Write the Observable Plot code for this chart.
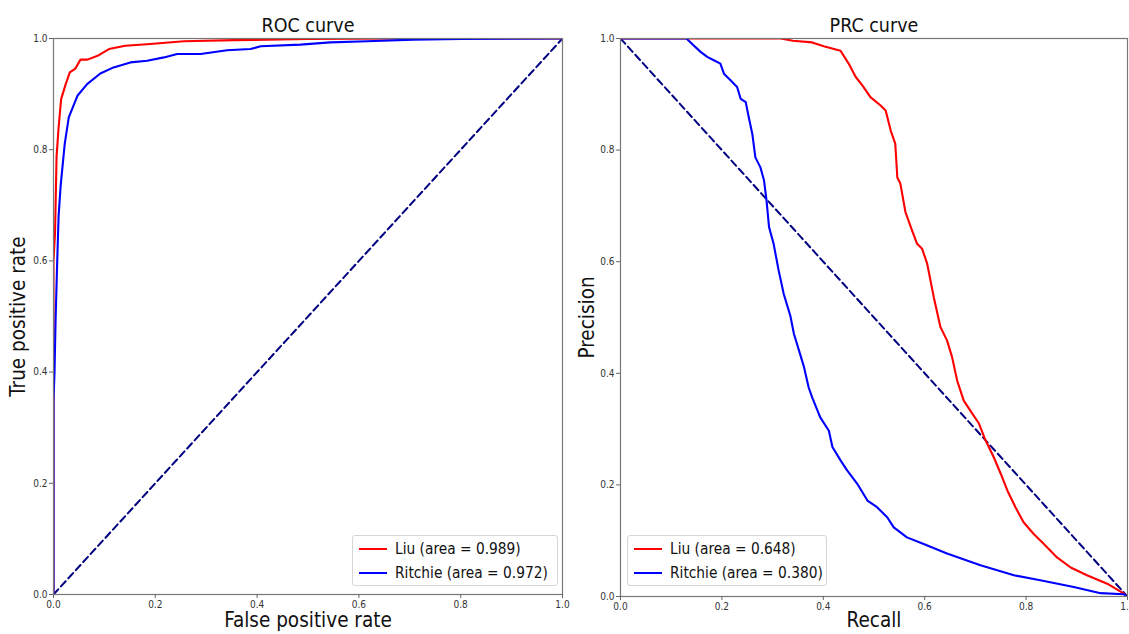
<!DOCTYPE html>
<html>
<head>
<meta charset="utf-8">
<script src="https://cdn.jsdelivr.net/npm/d3@7"></script>
<script src="https://cdn.jsdelivr.net/npm/@observablehq/plot@0.6"></script>
<style>
  html, body { margin: 0; padding: 0; background: #fff; }
  #wrap { position: relative; width: 1129px; height: 634px; overflow: hidden; font-family: "DejaVu Sans Condensed", "DejaVu Sans", sans-serif; }
  .panel { position: absolute; top: 0; overflow: visible; }
  .legend { position: absolute; background: rgba(255,255,255,0.85); border: 1px solid #d6d6d6; border-radius: 3px; box-sizing: border-box; }
  .legend .row { position: absolute; left: 0; height: 20px; display: flex; align-items: center; font-size: 15.3px; color: #111; white-space: nowrap; }
  .legend .sw { width: 28px; height: 2px; margin-left: 6px; margin-right: 8px; }
</style>
</head>
<body>
<div id="wrap"></div>
<script>
// ---------- data ----------
const ticks = [0, 0.2, 0.4, 0.6, 0.8, 1.0];

const rocLiuFpr = [0, 0, 0.003, 0.006, 0.010, 0.015, 0.024, 0.032, 0.043, 0.053, 0.067, 0.089, 0.109, 0.141, 0.190, 0.256, 0.354, 0.500, 0.700, 1.0];
const rocLiuTpr = [0, 0.60, 0.65, 0.787, 0.84, 0.891, 0.918, 0.939, 0.946, 0.962, 0.962, 0.970, 0.981, 0.987, 0.990, 0.995, 0.997, 0.999, 1.0, 1.0];

const rocRitFpr = [0, 0, 0.002, 0.004, 0.007, 0.010, 0.014, 0.022, 0.030, 0.047, 0.066, 0.092, 0.118, 0.151, 0.184, 0.217, 0.243, 0.289, 0.341, 0.387, 0.407, 0.485, 0.544, 0.616, 0.707, 0.800, 1.0];
const rocRitTpr = [0, 0.35, 0.40, 0.49, 0.59, 0.68, 0.735, 0.81, 0.858, 0.897, 0.918, 0.937, 0.948, 0.957, 0.960, 0.966, 0.972, 0.972, 0.979, 0.981, 0.986, 0.989, 0.993, 0.995, 0.998, 0.999, 1.0];

const prcLiuRecall = [0, 0.316, 0.340, 0.378, 0.401, 0.434, 0.450, 0.464, 0.477, 0.493, 0.513, 0.523, 0.533, 0.542, 0.546, 0.552, 0.562, 0.575, 0.585, 0.595, 0.605, 0.618, 0.631, 0.644, 0.654, 0.664, 0.677, 0.690, 0.707, 0.720, 0.736, 0.750, 0.763, 0.779, 0.795, 0.815, 0.835, 0.861, 0.888, 0.920, 0.960, 0.993, 1.0];
const prcLiuPrec   = [1.0, 1.0, 0.996, 0.993, 0.986, 0.978, 0.955, 0.931, 0.916, 0.895, 0.880, 0.871, 0.835, 0.811, 0.751, 0.740, 0.689, 0.656, 0.632, 0.623, 0.596, 0.536, 0.483, 0.459, 0.429, 0.387, 0.351, 0.333, 0.310, 0.280, 0.250, 0.220, 0.190, 0.160, 0.133, 0.112, 0.094, 0.070, 0.052, 0.038, 0.023, 0.005, 0.0];

const prcRitRecall = [0, 0.130, 0.145, 0.158, 0.171, 0.184, 0.197, 0.204, 0.217, 0.230, 0.237, 0.247, 0.253, 0.260, 0.266, 0.276, 0.283, 0.288, 0.293, 0.302, 0.312, 0.322, 0.335, 0.342, 0.352, 0.362, 0.371, 0.378, 0.394, 0.411, 0.418, 0.434, 0.447, 0.467, 0.487, 0.506, 0.526, 0.539, 0.565, 0.598, 0.644, 0.710, 0.776, 0.828, 0.894, 0.947, 0.993, 1.0];
const prcRitPrec   = [1.0, 1.0, 0.987, 0.976, 0.967, 0.961, 0.955, 0.937, 0.925, 0.913, 0.892, 0.886, 0.859, 0.829, 0.787, 0.769, 0.746, 0.710, 0.662, 0.632, 0.584, 0.542, 0.503, 0.471, 0.441, 0.411, 0.375, 0.357, 0.321, 0.297, 0.268, 0.244, 0.226, 0.202, 0.172, 0.160, 0.142, 0.124, 0.106, 0.094, 0.077, 0.056, 0.038, 0.029, 0.017, 0.006, 0.004, 0.0];

const rocChanceX = [0, 1], rocChanceY = [0, 1];
const prcChanceX = [0, 1], prcChanceY = [1, 0];

const rocLegend = ["Liu (area = 0.989)", "Ritchie (area = 0.972)"];
const prcLegend = ["Liu (area = 0.648)", "Ritchie (area = 0.380)"];
const seriesColors = ["red", "blue"];

// ---------- helpers ----------
const pts = (xs, ys) => xs.map((x, i) => ({x, y: ys[i]}));
const FONT = '"DejaVu Sans Condensed", "DejaVu Sans", sans-serif';

function panel({title, xlabel, ylabel, liu, rit, chance, width, ml, mr, mb, ylabDx, xlabDy}) {
  return Plot.plot({
    width, height: 634,
    marginLeft: ml, marginRight: mr, marginTop: 38, marginBottom: mb,
    x: {domain: [0, 1]},
    y: {domain: [0, 1]},
    style: {fontFamily: FONT, background: "transparent", color: "#333", overflow: "visible"},
    marks: [
      Plot.line(chance, {x: "x", y: "y", stroke: "navy", strokeWidth: 2, strokeDasharray: "7,4", clip: true}),
      Plot.line(liu, {x: "x", y: "y", stroke: seriesColors[0], strokeWidth: 2.1, clip: true}),
      Plot.line(rit, {x: "x", y: "y", stroke: seriesColors[1], strokeWidth: 2.1, clip: true}),
      Plot.frame({stroke: "#777", strokeWidth: 1.2}),
      Plot.axisX({ticks, tickFormat: d3.format(".1f"), tickSize: 4, tickPadding: 2, fontSize: 10, label: null, stroke: "#666"}),
      Plot.axisY({ticks, tickFormat: d3.format(".1f"), tickSize: 4, tickPadding: 2, fontSize: 10, label: null, stroke: "#666"}),
      Plot.text([title], {frameAnchor: "top", dy: -7, lineAnchor: "bottom", fontSize: 19.5, fill: "#111"}),
      Plot.text([xlabel], {frameAnchor: "bottom", dy: xlabDy, lineAnchor: "top", fontSize: 20.5, fill: "#111"}),
      Plot.text([ylabel], {frameAnchor: "left", dx: ylabDx, rotate: -90, textAnchor: "middle", lineAnchor: "middle", fontSize: 20.5, fill: "#111"})
    ]
  });
}

function legend(labels, left, top, width) {
  const box = document.createElement("div");
  box.className = "legend";
  Object.assign(box.style, {left: left + "px", top: top + "px", width: width + "px", height: "51px"});
  labels.forEach((lab, i) => {
    const row = document.createElement("div");
    row.className = "row";
    row.style.top = (3 + i * 24) + "px";
    const sw = document.createElement("div");
    sw.className = "sw";
    sw.style.background = seriesColors[i];
    const t = document.createElement("span");
    t.textContent = lab;
    row.appendChild(sw);
    row.appendChild(t);
    box.appendChild(row);
  });
  return box;
}

const wrap = document.getElementById("wrap");

const prc = panel({
  title: "PRC curve", xlabel: "Recall", ylabel: "Precision",
  liu: pts(prcLiuRecall, prcLiuPrec), rit: pts(prcRitRecall, prcRitPrec), chance: pts(prcChanceX, prcChanceY),
  width: 564, ml: 55, mr: 2, mb: 38, ylabDx: -33, xlabDy: 16
});
prc.classList.add("panel");
prc.style.left = "565px";
wrap.appendChild(prc);

const roc = panel({
  title: "ROC curve", xlabel: "False positive rate", ylabel: "True positive rate",
  liu: pts(rocLiuFpr, rocLiuTpr), rit: pts(rocRitFpr, rocRitTpr), chance: pts(rocChanceX, rocChanceY),
  width: 565, ml: 53, mr: 3, mb: 40, ylabDx: -35, xlabDy: 18
});
roc.classList.add("panel");
roc.style.left = "0px";
wrap.appendChild(roc);

wrap.appendChild(legend(rocLegend, 352, 535, 206));
wrap.appendChild(legend(prcLegend, 627, 535, 200));
</script>
</body>
</html>
